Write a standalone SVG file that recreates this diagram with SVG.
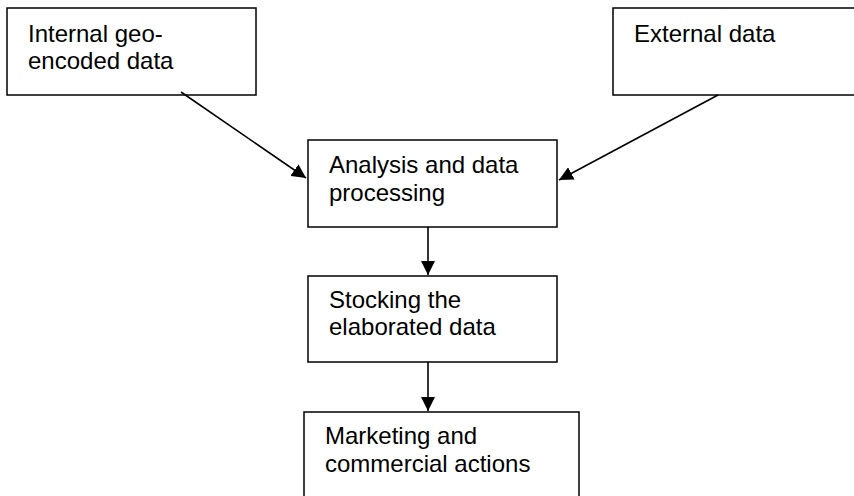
<svg xmlns="http://www.w3.org/2000/svg" width="854" height="496" viewBox="0 0 854 496">
<defs>
<marker id="arr" viewBox="0 0 14 14" refX="14" refY="7" markerWidth="14" markerHeight="14" markerUnits="userSpaceOnUse" orient="auto">
<path d="M0,0 L14,7 L0,14 Z" fill="#000"/>
</marker>
<style>
.box{fill:#fff;stroke:#000;stroke-width:1.5}
.t{font-family:"Liberation Sans",Arial,sans-serif;font-size:24px;fill:#000}
.c{stroke:#000;stroke-width:1.6;fill:none;marker-end:url(#arr)}
</style>
</defs>
<rect width="854" height="496" fill="#fff"/>
<g id="internal">
<rect class="box" x="7" y="8" width="249" height="87"/>
<text class="t" x="28" y="42">Internal geo-</text>
<text class="t" x="28" y="69">encoded data</text>
</g>
<g id="external">
<rect class="box" x="613" y="8" width="260" height="87"/>
<text class="t" x="634" y="42">External data</text>
</g>
<g id="analysis">
<rect class="box" x="308" y="140" width="249" height="87"/>
<text class="t" x="329" y="173">Analysis and data</text>
<text class="t" x="329" y="201">processing</text>
</g>
<g id="stocking">
<rect class="box" x="308" y="276" width="249" height="86"/>
<text class="t" x="329" y="308">Stocking the</text>
<text class="t" x="329" y="335">elaborated data</text>
</g>
<g id="marketing">
<rect class="box" x="304" y="412" width="275" height="100"/>
<text class="t" x="325" y="444">Marketing and</text>
<text class="t" x="325" y="472">commercial actions</text>
</g>
<g id="connectors">
<line class="c" x1="181" y1="92" x2="306" y2="178"/>
<line class="c" x1="718" y1="95" x2="559" y2="180"/>
<line class="c" x1="428" y1="227" x2="428" y2="275"/>
<line class="c" x1="428" y1="362" x2="428" y2="411"/>
</g>
</svg>
